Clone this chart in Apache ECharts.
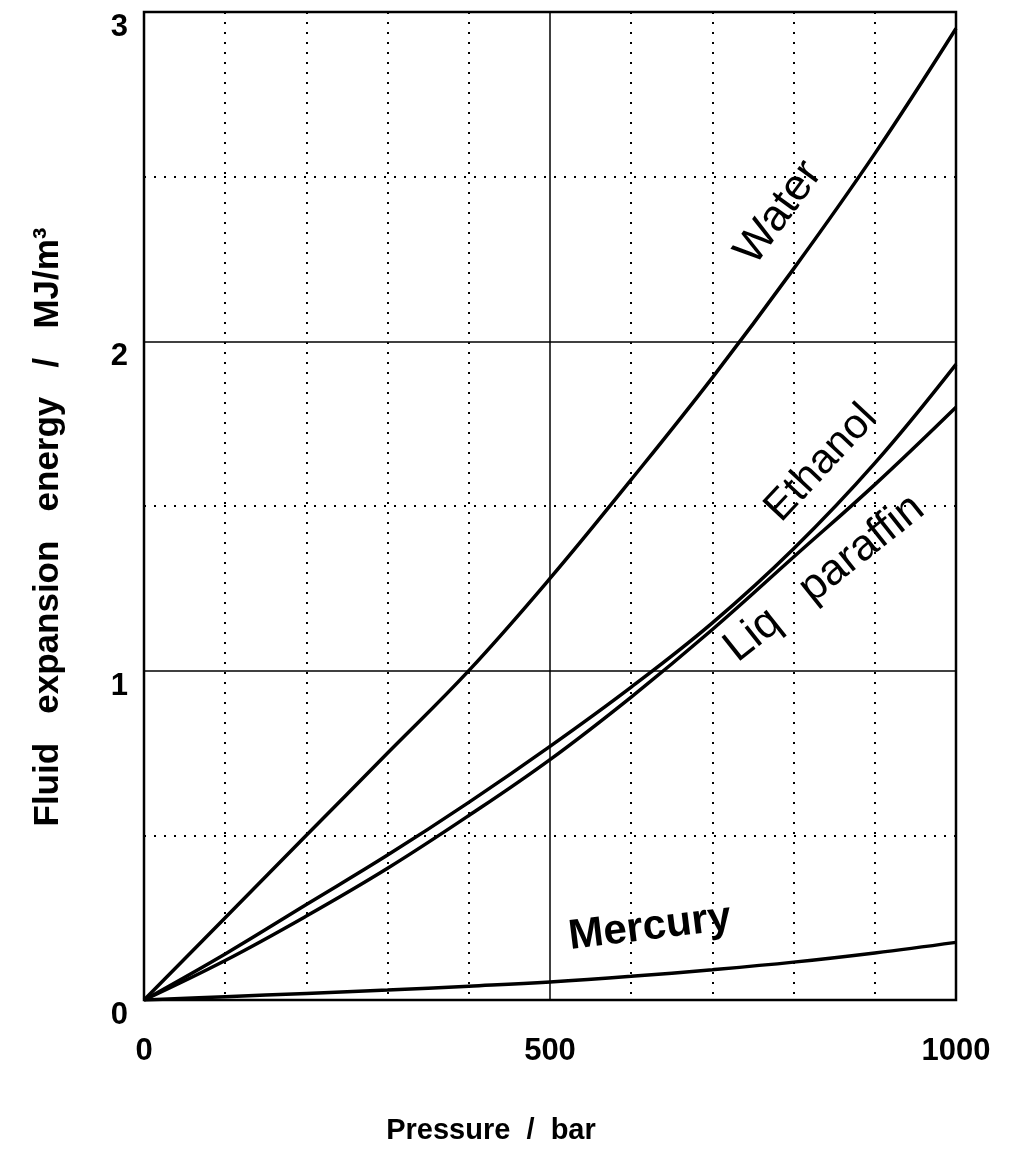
<!DOCTYPE html>
<html>
<head>
<meta charset="utf-8">
<script src="https://cdn.jsdelivr.net/npm/echarts@6/dist/echarts.min.js"></script>
<style>
html,body{margin:0;padding:0;background:#fff;}
#chart{width:1020px;height:1155px;}
</style>
</head>
<body>
<div id="chart"></div>
<script>
// Data
const pressure = [0, 100, 200, 300, 400, 500, 600, 700, 800, 900, 1000];
const water    = [0, 0.25, 0.50, 0.75, 1.00, 1.28, 1.58, 1.89, 2.22, 2.57, 2.95];
const ethanol  = [0, 0.14, 0.29, 0.44, 0.60, 0.77, 0.95, 1.145, 1.37, 1.63, 1.93];
const paraffin = [0, 0.12, 0.255, 0.40, 0.56, 0.73, 0.92, 1.125, 1.345, 1.565, 1.80];
const mercury  = [0, 0.01, 0.02, 0.03, 0.042, 0.055, 0.072, 0.092, 0.115, 0.143, 0.175];
const xTickLabels = ['0', '500', '1000'];
const yTickLabels = ['0', '1', '2', '3'];

const FONT = '"Liberation Sans", Arial, Helvetica, sans-serif';
const pairs = arr => pressure.map((p, i) => [p, arr[i]]);

function curve(name, arr, lab) {
  return {
    name: name,
    type: 'line',
    data: pairs(arr),
    smooth: 0.4,
    symbol: 'none',
    lineStyle: { color: '#000', width: 3.5 },
    z: 5,
    markPoint: lab ? {
      symbol: 'circle',
      symbolSize: 0,
      silent: true,
      data: [{ coord: lab.coord, value: lab.text }],
      label: {
        show: true,
        position: 'inside',
        formatter: lab.text,
        rotate: lab.rotate,
        color: '#000',
        fontFamily: FONT,
        fontSize: lab.size,
        fontWeight: lab.weight || 'normal'
      }
    } : undefined
  };
}

const chart = echarts.init(document.getElementById('chart'), null, { renderer: 'canvas' });
chart.setOption({
  backgroundColor: '#fff',
  animation: false,
  grid: {
    left: 144, top: 12, width: 812, height: 988,
    show: true, borderColor: '#000', borderWidth: 2.5, backgroundColor: 'transparent'
  },
  xAxis: {
    type: 'value', min: 0, max: 1000, interval: 500,
    name: 'Pressure  /  bar', nameLocation: 'middle', nameGap: 116,
    nameTextStyle: { fontFamily: FONT, fontSize: 29, fontWeight: 'bold', color: '#000', padding: [0, 118, 0, 0] },
    axisLine: { show: false },
    axisTick: { show: false },
    axisLabel: {
      margin: 36, fontFamily: FONT, fontSize: 31, fontWeight: 'bold', color: '#000',
      formatter: v => xTickLabels.includes(String(v)) ? String(v) : ''
    },
    splitLine: { show: true, lineStyle: { color: '#000', width: 1.5 } },
    minorTick: { show: false, splitNumber: 5 },
    minorSplitLine: { show: true, lineStyle: { color: '#000', width: 2, type: [2, 8] } }
  },
  yAxis: {
    type: 'value', min: 0, max: 3, interval: 1,
    name: 'Fluid   expansion   energy   /   MJ/m³', nameLocation: 'middle', nameGap: 78, nameRotate: 90,
    nameTextStyle: { fontFamily: FONT, fontSize: 35, fontWeight: 'bold', color: '#000', padding: [0, 42, 0, 0] },
    axisLine: { show: false },
    axisTick: { show: false },
    axisLabel: {
      margin: 16, fontFamily: FONT, fontSize: 31, fontWeight: 'bold', color: '#000',
      verticalAlign: 'top',
      formatter: v => yTickLabels.includes(String(v)) ? String(v) : ''
    },
    splitLine: { show: true, lineStyle: { color: '#000', width: 1.5 } },
    minorTick: { show: false, splitNumber: 2 },
    minorSplitLine: { show: true, lineStyle: { color: '#000', width: 2, type: [2, 8] } }
  },
  series: [
    curve('Water', water, { coord: [782, 2.39], text: 'Water', rotate: 54, size: 44 }),
    curve('Ethanol', ethanol, { coord: [834, 1.63], text: 'Ethanol', rotate: 47, size: 42 }),
    curve('Liq paraffin', paraffin, { coord: [838, 1.28], text: 'Liq   paraffin', rotate: 38.5, size: 44 }),
    curve('Mercury', mercury, { coord: [623, 0.22], text: 'Mercury', rotate: 7, size: 42, weight: 'bold' })
  ]
});
</script>
</body>
</html>
